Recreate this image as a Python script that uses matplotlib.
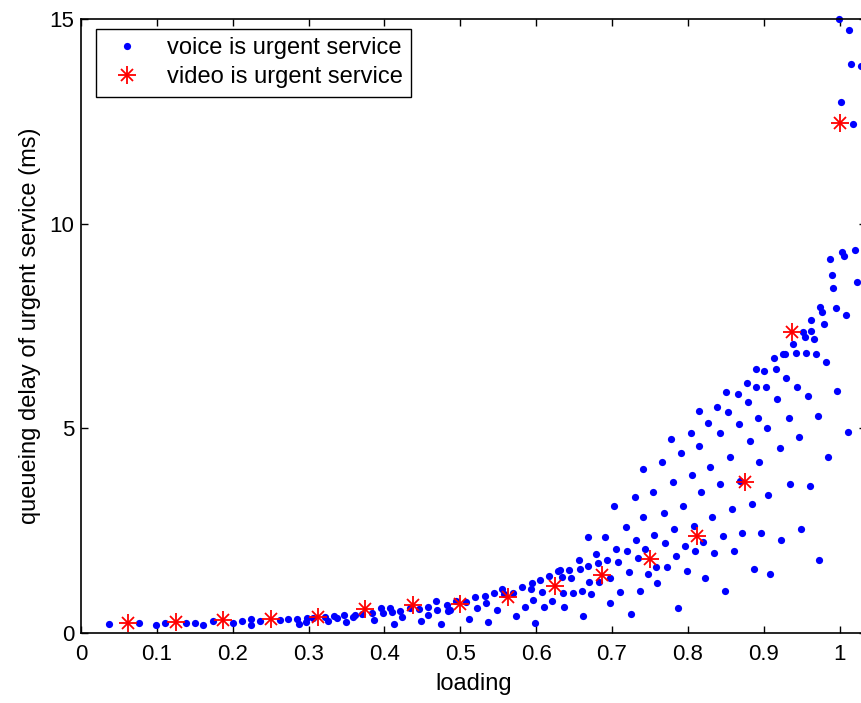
import matplotlib
matplotlib.use("Agg")
import matplotlib.pyplot as plt

plt.rcParams["font.family"] = ["Liberation Sans", "DejaVu Sans"]

# voice as urgent service: (loading, queueing delay in ms)
voice_load = [
    0.037, 0.076, 0.099, 0.111, 0.138, 0.150, 0.161, 0.174, 0.200, 0.212,
    0.224, 0.224, 0.236, 0.262, 0.273, 0.285, 0.288, 0.298, 0.297, 0.306,
    0.322, 0.325, 0.334, 0.337, 0.347, 0.349, 0.359, 0.361, 0.371, 0.383,
    0.386, 0.396, 0.398, 0.407, 0.410, 0.413, 0.421, 0.423, 0.434, 0.445,
    0.448, 0.457, 0.458, 0.468, 0.470, 0.475, 0.482, 0.484, 0.487, 0.495,
    0.508, 0.512, 0.519, 0.522, 0.532, 0.534, 0.536, 0.544, 0.548, 0.555,
    0.558, 0.570, 0.574, 0.582, 0.586, 0.594, 0.593, 0.596, 0.599, 0.605,
    0.608, 0.610, 0.617, 0.621, 0.629, 0.632, 0.634, 0.635, 0.637, 0.644,
    0.646, 0.648, 0.656, 0.658, 0.660, 0.662, 0.668, 0.668, 0.670, 0.672,
    0.679, 0.681, 0.683, 0.691, 0.694, 0.697, 0.698, 0.703, 0.705, 0.708,
    0.711, 0.718, 0.720, 0.723, 0.725, 0.730, 0.732, 0.735, 0.737, 0.741,
    0.744, 0.747, 0.741, 0.754, 0.756, 0.758, 0.760, 0.766, 0.768, 0.770,
    0.772, 0.778, 0.780, 0.782, 0.784, 0.787, 0.791, 0.794, 0.796, 0.799,
    0.804, 0.806, 0.808, 0.810, 0.815, 0.815, 0.818, 0.820, 0.823, 0.827,
    0.829, 0.832, 0.835, 0.839, 0.842, 0.843, 0.846, 0.849, 0.851, 0.853,
    0.856, 0.858, 0.861, 0.866, 0.868, 0.869, 0.872, 0.878, 0.880, 0.882,
    0.885, 0.887, 0.890, 0.890, 0.892, 0.894, 0.897, 0.901, 0.903, 0.905,
    0.906, 0.908, 0.913, 0.916, 0.918, 0.921, 0.923, 0.926, 0.928, 0.930,
    0.933, 0.935, 0.939, 0.942, 0.944, 0.947, 0.949, 0.952, 0.955, 0.956,
    0.959, 0.961, 0.963, 0.963, 0.966, 0.969, 0.971, 0.973, 0.974, 0.977,
    0.980, 0.982, 0.985, 0.987, 0.990, 0.992, 0.995, 0.997, 1.003, 1.006,
    1.009, 1.011, 1.020, 1.023, 0.999, 1.013, 1.015, 1.028, 1.002, 1.018,
]
voice_delay = [
    0.21, 0.25, 0.20, 0.25, 0.24, 0.25, 0.20, 0.29, 0.24, 0.29,
    0.35, 0.19, 0.29, 0.32, 0.33, 0.34, 0.21, 0.37, 0.28, 0.36,
    0.40, 0.29, 0.42, 0.36, 0.44, 0.26, 0.38, 0.44, 0.46, 0.48,
    0.32, 0.60, 0.48, 0.60, 0.51, 0.22, 0.54, 0.38, 0.60, 0.59,
    0.30, 0.64, 0.44, 0.79, 0.56, 0.22, 0.68, 0.54, 0.56, 0.78,
    0.76, 0.34, 0.87, 0.60, 0.90, 0.73, 0.26, 0.97, 0.56, 1.07,
    0.95, 0.97, 0.42, 1.13, 0.64, 1.21, 1.07, 0.81, 0.25, 1.29,
    0.99, 0.64, 1.40, 0.78, 1.52, 1.54, 1.38, 0.98, 0.64, 1.54,
    1.34, 0.98, 1.78, 1.56, 1.03, 0.42, 2.35, 1.64, 1.25, 0.95,
    1.93, 1.70, 1.25, 2.35, 1.78, 1.34, 0.73, 3.11, 2.05, 1.74,
    0.99, 2.58, 2.01, 1.48, 0.46, 3.33, 2.27, 1.83, 1.03, 2.84,
    2.05, 1.44, 4.01, 3.45, 2.39, 1.61, 1.21, 4.17, 2.92, 2.19,
    1.61, 4.73, 3.68, 2.54, 1.88, 0.60, 4.39, 3.11, 2.13, 1.52,
    4.88, 3.86, 2.62, 2.00, 5.43, 4.57, 3.45, 2.22, 1.35, 5.14,
    4.06, 2.84, 1.96, 5.53, 4.88, 3.63, 2.37, 1.03, 5.88, 5.39,
    4.29, 3.02, 2.01, 5.84, 5.10, 3.72, 2.45, 6.10, 5.65, 4.70,
    3.15, 1.57, 6.45, 6.02, 5.26, 4.17, 2.45, 6.40, 6.02, 5.00,
    3.37, 1.44, 6.71, 6.45, 5.71, 4.51, 2.27, 6.81, 6.81, 6.24,
    5.26, 3.63, 7.06, 6.85, 6.02, 4.78, 2.54, 7.35, 7.22, 6.85,
    5.80, 3.59, 7.65, 7.39, 7.19, 6.81, 5.31, 1.78, 7.96, 7.83,
    7.55, 6.63, 4.29, 9.13, 8.75, 8.44, 7.95, 5.92, 9.32, 9.21,
    7.77, 4.92, 9.36, 8.57, 15.00, 14.73, 13.90, 13.84, 12.97, 12.44,
]

# video as urgent service
video_load = [
    0.0625, 0.125, 0.1875, 0.25, 0.3125, 0.375, 0.4375, 0.5,
    0.5625, 0.625, 0.6875, 0.75, 0.8125, 0.875, 0.9375, 1.0,
]
video_delay = [
    0.24, 0.27, 0.32, 0.34, 0.40, 0.59, 0.68, 0.72,
    0.89, 1.15, 1.42, 1.80, 2.38, 3.70, 7.35, 12.47,
]

x_ticks = [0, 0.1, 0.2, 0.3, 0.4, 0.5, 0.6, 0.7, 0.8, 0.9, 1.0]
y_ticks = [0, 5, 10, 15]

W, H = 861, 703
fs_tick = 16
fs_text = 17
fig = plt.figure(figsize=(W / 100, H / 100), dpi=100)
# right edge of the axes box sits just outside the picture, as in the reference
ax = fig.add_axes([81 / W, (H - 633) / H, (866 - 81) / W, (633 - 19) / H])

voice, = ax.plot(voice_load, voice_delay, "o", color="blue", ms=5.2,
                 mec="none", clip_on=False)
plus, = ax.plot(video_load, video_delay, "+", color="red", ms=13, mew=1.3,
                clip_on=False)
cross, = ax.plot(video_load, video_delay, "x", color="red", ms=8, mew=1.3,
                 clip_on=False)

ax.set_xlim(0, (866 - 81) / 758.5)
ax.set_ylim(0, 15)
ax.set_xticks(x_ticks)
ax.set_xticklabels([f"{t:g}" for t in x_ticks])
ax.set_yticks(y_ticks)
ax.set_yticklabels([f"{t:g}" for t in y_ticks])
ax.tick_params(direction="in", top=True, right=True, length=5, width=1,
               labelsize=fs_tick, colors="black")
ax.tick_params(axis="x", pad=8)
ax.tick_params(axis="y", pad=5)
for spine in ax.spines.values():
    spine.set_linewidth(1.2)

ax.set_xlabel("loading", fontsize=fs_text, labelpad=6)
ax.set_ylabel("queueing delay of urgent service (ms)", fontsize=fs_text,
              labelpad=6)

leg = ax.legend([voice, (plus, cross)],
                ["voice is urgent service", "video is urgent service"],
                loc="upper left", bbox_to_anchor=(0.0191, 0.9837),
                borderaxespad=0, fancybox=False, edgecolor="black",
                framealpha=1, fontsize=fs_text, numpoints=1, handlelength=1.9,
                handletextpad=0.75, labelspacing=0.3, borderpad=0.35)
leg.get_frame().set_linewidth(1.0)

fig.savefig("out.png", dpi=100)
plt.close(fig)
